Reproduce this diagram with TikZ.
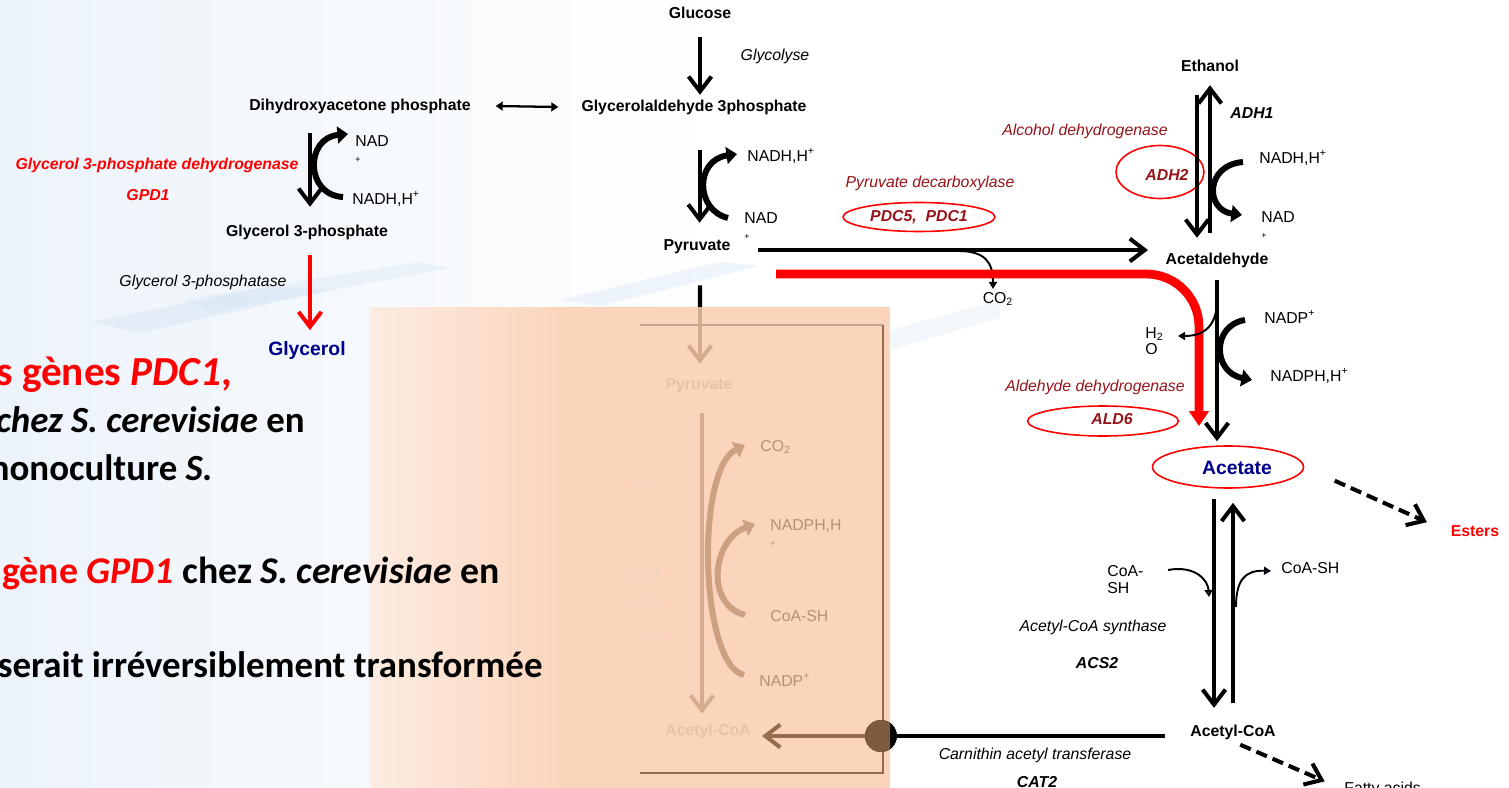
\documentclass[tikz,border=0pt]{standalone}
\usepackage{fontspec}
\setmainfont{Liberation Sans}
\newfontfamily\slidefont{Carlito}
\usetikzlibrary{arrows.meta,shapes.geometric,positioning}

\definecolor{enzred}{RGB}{150,20,25}
\definecolor{navyblue}{RGB}{0,0,140}
\definecolor{bgblue}{RGB}{236,243,250}
\definecolor{streak}{RGB}{214,230,245}
\definecolor{peachL}{RGB}{253,236,226}
\definecolor{peachR}{RGB}{250,213,188}
\definecolor{boxbrown}{RGB}{150,108,78}
\definecolor{circbrown}{RGB}{125,90,62}
\definecolor{fadearrow}{RGB}{214,172,145}
\definecolor{fadecurve}{RGB}{205,160,130}
\definecolor{fadelabel}{RGB}{183,143,117}
\definecolor{fademet}{RGB}{232,193,168}
\definecolor{fadeghost}{RGB}{243,213,194}
\definecolor{tipblue}{RGB}{40,90,160}

\begin{document}
\begin{tikzpicture}[
    x=0.02cm, y=-0.02cm,
    every node/.style={inner sep=1pt, font=\fontsize{9}{10}\selectfont},
    met/.style={font=\bfseries\fontsize{9}{10}\selectfont, text height=6.6pt, text depth=1.9pt},
    prod/.style={font=\bfseries\fontsize{11}{12}\selectfont, text=navyblue},
    enz/.style={font=\itshape\fontsize{9}{10}\selectfont},
    gene/.style={font=\bfseries\itshape\fontsize{9}{10}\selectfont},
    cofac/.style={align=left, inner sep=0pt, font=\fontsize{9}{10}\selectfont},
    ring/.style={ellipse, draw=red, line width=0.9pt, inner sep=0pt},
    rxn/.style={line width=2.3pt, -{Straight Barb[length=8.5pt,width=13pt]}},
    dblarrow/.style={line width=1.3pt, {Triangle[length=4pt,width=5pt]}-{Triangle[length=4pt,width=5pt]}},
    cofarrow/.style={line width=3.4pt, -{Triangle[length=6pt,width=9.5pt]}},
    thinarrow/.style={line width=1.1pt, -{Triangle[length=4pt,width=4.5pt]}},
    dasharrow/.style={rxn, dash pattern=on 6.5pt off 3.5pt},
    slide/.style={anchor=base east, inner sep=0pt, font=\slidefont\bfseries\fontsize{21}{24}\selectfont}
  ]

  \useasboundingbox (0,0) rectangle (1509,788);
  \clip (0,0) rectangle (1509,788);

  % slide background
  \fill[white] (0,0) rectangle (1509,788);
  \shade[left color=bgblue, right color=white] (0,0) rectangle (720,788);
  \fill[streak, opacity=0.5] (90,322) -- (270,286) -- (330,290) -- (140,333) -- cycle;
  \fill[streak, opacity=0.4] (180,300) -- (420,262) -- (450,268) -- (215,312) -- cycle;
  \fill[streak, opacity=0.4] (560,300) -- (720,262) -- (760,266) -- (600,306) -- cycle;
  \fill[streak, opacity=0.3] (890,330) -- (1000,300) -- (1000,318) -- (890,350) -- cycle;

  % glycolysis
  \node[met] (glucose) at (700,14) {Glucose};
  \node[enz] (glycolyse) at (775,56) {Glycolyse};
  \node[met] (gap) at (694,107) {Glycerolaldehyde 3phosphate};
  \node[met] (pyruvate) at (697,246) {Pyruvate};
  \node[cofac, anchor=west] (nadhB) at (747,156) {NADH,H\textsuperscript{+}};
  \node[cofac, anchor=north west] (nadB) at (744,212) {NAD\\[-1pt]{\tiny +}};

  \draw[rxn, shorten <=7.8pt, shorten >=1.5pt] (glucose.south) -- (glucose.south |- gap.north);
  \draw[rxn, shorten <=19pt, shorten >=7.8pt] ([xshift=1.5pt]pyruvate.north |- gap.south) -- ([xshift=1.5pt]pyruvate.north);
  \coordinate (gapTail) at (728,218);
  \coordinate (gapHead) at (737,154);
  \draw[cofarrow] (gapTail) .. controls (695,210) and (695,160) .. (gapHead);

  % glycerol branch
  \node[met] (dhap) at (360,106) {Dihydroxyacetone phosphate};
  \node[met] (g3p) at (307,232) {Glycerol 3-phosphate};
  \node[prod] (glycerol) at (307,350) {Glycerol};
  \node[gene, text=red] (gpdname) at (157,165) {Glycerol 3-phosphate dehydrogenase};
  \node[gene, text=red] (gpd) at (148,195) {GPD1};
  \node[enz] (gppname) at (203,282) {Glycerol 3-phosphatase};
  \node[cofac, anchor=north west] (nadA) at (355,135) {NAD\\[-1pt]{\tiny +}};
  \node[cofac, anchor=west] (nadhA) at (352,199) {NADH,H\textsuperscript{+}};

  \draw[dblarrow] ([xshift=13pt]dhap.east) -- ([xshift=-12pt]gap.west);
  \draw[rxn, shorten <=10pt, shorten >=8.9pt] ([xshift=1.7pt]g3p.north |- dhap.south) -- ([xshift=1.7pt]g3p.north);
  \coordinate (gpdTail) at (343,197);
  \coordinate (gpdHead) at (348,134);
  \draw[cofarrow] (gpdTail) .. controls (305,195) and (305,138) .. (gpdHead);
  \draw[rxn, red, shorten <=7.8pt, shorten >=5pt] ([xshift=1.7pt]g3p.south) -- ([xshift=1.7pt]g3p.south |- glycerol.north);

  % pyruvate decarboxylase
  \node[met] (acetald) at (1217,260) {Acetaldehyde};
  \node[enz, text=enzred] (pdcname) at (930,183) {Pyruvate decarboxylase};
  \node[ring, gene, text=enzred, minimum width=3.04cm, minimum height=0.58cm] (pdcring) at (919,217) {PDC5,\ \ PDC1};
  \node (co2) at (998,299) {CO\textsubscript{2}};
  \draw[rxn, shorten <=14.7pt, shorten >=8.8pt] ([yshift=-2.3pt]pyruvate.east) -- ([yshift=-2.3pt]pyruvate.east -| acetald.west);
  \coordinate (co2Fork) at (958,251);
  \coordinate (co2Tip) at (993,289);
  \draw[thinarrow] (co2Fork) .. controls (985,251) and (993,262) .. (co2Tip);

  % red by-pass
  \coordinate (redStart) at (776,274);
  \coordinate (redTip) at (1199,426);
  \draw[red, line width=5pt, rounded corners=30pt, -{Triangle[length=8.5pt,width=11pt]}] (redStart) -| (redTip);

  % alcohol dehydrogenase
  \node[met] (ethanol) at (1210,67) {Ethanol};
  \node[gene] (adh1) at (1252,113) {ADH1};
  \node[enz, text=enzred] (adhname) at (1085,131) {Alcohol dehydrogenase};
  \node[ring, minimum width=1.76cm, minimum height=1.06cm] (adhring) at (1160,172) {};
  \node[gene, text=enzred] (adh2) at (1167,175) {ADH2};
  \node[cofac, anchor=west] (nadhC) at (1259,158) {NADH,H\textsuperscript{+}};
  \node[cofac, anchor=north west] (nadC) at (1261,211) {NAD\\[-1pt]{\tiny +}};
  \draw[rxn, shorten <=10.6pt, shorten >=7.2pt] ([xshift=-7.4pt]ethanol.south) -- ([xshift=-7.4pt]ethanol.south |- acetald.north);
  \draw[rxn, shorten <=10pt, shorten >=4.9pt] (ethanol.south |- acetald.north) -- (ethanol.south);
  \coordinate (adhTail) at (1243,162);
  \coordinate (adhHead) at (1242,215);
  \draw[cofarrow] (adhTail) .. controls (1205,165) and (1205,210) .. (adhHead);

  % aldehyde dehydrogenase
  \node[ring, minimum width=3.02cm, minimum height=0.84cm] (acetring) at (1228,467) {};
  \node[prod] (acetate) at (1237,468) {Acetate};
  \node[enz, text=enzred] (aldname) at (1095,387) {Aldehyde dehydrogenase};
  \node[ring, minimum width=3.02cm, minimum height=0.6cm] (aldring) at (1103,421) {};
  \node[gene, text=enzred] (ald6) at (1112,419) {ALD6};
  \node[cofac, anchor=west] (nadpD) at (1264,317) {NADP\textsuperscript{+}};
  \node[cofac, anchor=west] (nadphD) at (1270,376) {NADPH,H\textsuperscript{+}};
  \node[cofac, anchor=north west] (h2o) at (1145,327) {H\textsubscript{2}\\[-1pt]O};
  \draw[rxn, shorten <=6pt, shorten >=2.3pt] (acetald.south) -- (acetald.south |- acetring.north);
  \coordinate (h2oFork) at (1217,300);
  \coordinate (h2oTip) at (1178,336);
  \draw[thinarrow] (h2oFork) .. controls (1217,325) and (1205,336) .. (h2oTip);
  \coordinate (aldTail) at (1245,320);
  \coordinate (aldHead) at (1252,380);
  \draw[cofarrow] (aldTail) .. controls (1212,325) and (1212,372) .. (aldHead);

  % acetyl-CoA synthase
  \node[met] (acetylcoa) at (1233,732) {Acetyl-CoA};
  \node[met, text=red] (esters) at (1475,532) {Esters};
  \node[anchor=north west, inner sep=0pt] (fatty) at (1344,782) {Fatty acids};
  \node[enz] (acsname) at (1093,627) {Acetyl-CoA synthase};
  \node[gene] (acs2) at (1097,663) {ACS2};
  \node[cofac, anchor=north west] (coashA) at (1107,565) {CoA-\\SH};
  \node[cofac, anchor=west] (coashB) at (1281,568) {CoA-SH};
  \draw[rxn, shorten <=5.7pt, shorten >=8.3pt] ([xshift=-10.8pt]acetylcoa.north |- acetring.south) -- ([xshift=-10.8pt]acetylcoa.north);
  \draw[rxn, shorten <=11.2pt, shorten >=8pt] (acetylcoa.north) -- (acetylcoa.north |- acetring.south);
  \coordinate (coaInTail) at (1168,570);
  \coordinate (coaInTip) at (1209,597);
  \draw[thinarrow, -{Triangle[length=4pt,width=4.5pt,fill=tipblue]}] (coaInTail) .. controls (1195,565) and (1208,580) .. (coaInTip);
  \coordinate (coaOutTail) at (1236,607);
  \coordinate (coaOutTip) at (1271,571);
  \draw[thinarrow, -{Triangle[length=4pt,width=4.5pt,fill=tipblue]}] (coaOutTail) .. controls (1236,580) and (1245,570) .. (coaOutTip);
  \draw[dasharrow, shorten <=19pt, shorten >=13.6pt] (acetring.east) -- (esters.west);
  \draw[dasharrow, shorten <=4.5pt, shorten >=12pt] (acetylcoa.south) -- (fatty.west);

  % carnitine shuttle
  \node[enz] (catname) at (1035,755) {Carnithin acetyl transferase};
  \node[gene] (cat2) at (1037,782) {CAT2};

  % orange cover over the left part
  \shade[left color=peachL, right color=peachR] (369,307) rectangle (560,788);
  \fill[peachR] (560,307) rectangle (890,788);

  % faded mitochondrial box under the cover
  \draw[boxbrown!60, line width=0.9pt] (640,325) -- (883,325);
  \draw[boxbrown, line width=1pt] (883,325) -- (883,773) -- (640,773);
  \node[met, text=fademet] (inpyr) at (699,385) {Pyruvate};
  \node[met, text=fademet] (inacoa) at (708,731) {Acetyl-CoA};
  \node[cofac, anchor=west, text=fadelabel] (inco2) at (760,447) {CO\textsubscript{2}};
  \node[cofac, anchor=north west, text=fadelabel] (innadph) at (770,519) {NADPH,H\\[-1pt]{\tiny +}};
  \node[cofac, anchor=west, text=fadelabel] (incoash) at (770,616) {CoA-SH};
  \node[cofac, anchor=west, text=fadelabel] (innadp) at (759,680) {NADP\textsuperscript{+}};
  \node[enz, anchor=east, text=fadeghost] (ghostA) at (652,486) {se};
  \node[gene, anchor=east, text=fadeghost] (ghostB) at (662,574) {LD4};
  \node[gene, anchor=east, text=fadeghost] (ghostC) at (662,604) {LD5};
  \node[enz, anchor=east, text=fadeghost] (ghostD) at (669,635) {ase};

  \coordinate (coverTop) at (700,307);
  \draw[line width=2.3pt, shorten <=17pt] ([xshift=1.7pt]pyruvate.south) -- (coverTop);
  \draw[rxn, fadearrow, shorten >=6.6pt] (coverTop) -- (coverTop |- inpyr.north);
  \draw[rxn, fadearrow, shorten <=10.6pt, shorten >=4.4pt] ([xshift=1.7pt]inpyr.south) -- ([xshift=1.7pt]inpyr.south |- inacoa.north);
  \coordinate (inNadpTail) at (744,675);
  \coordinate (inCo2Tip) at (745,445);
  \draw[cofarrow, fadecurve] (inNadpTail) .. controls (700,665) and (695,470) .. (inCo2Tip);
  \coordinate (inCoaTail) at (745,615);
  \coordinate (inNadphTip) at (755,524);
  \draw[cofarrow, fadecurve] (inCoaTail) .. controls (705,605) and (712,540) .. (inNadphTip);

  % carnitine circle, half under the cover
  \node[circle, fill=black, minimum size=0.64cm, inner sep=0pt] (carncirc) at (881,736) {};
  \begin{scope}
    \clip (850,700) rectangle (890,775);
    \fill[circbrown] (carncirc.center) circle[radius=0.32cm];
  \end{scope}
  \draw[line width=2.3pt, shorten <=13pt] (carncirc -| acetylcoa.west) -- (carncirc);
  \draw[rxn, boxbrown, shorten >=5.3pt] (carncirc.west) -- (carncirc -| inacoa.east);

  % slide text
  \node[slide, text=red, font=\slidefont\bfseries\fontsize{23.5}{26}\selectfont] (genesA) at (232,385) {s gènes \textit{PDC1},};
  \node[slide] (chezA) at (305,432) {\textit{chez S. cerevisiae} en};
  \node[slide] (mono) at (213,480) {monoculture \textit{S.}};
  \node[slide, font=\slidefont\bfseries\fontsize{21.5}{24}\selectfont] (geneB) at (500,583) {\textcolor{red}{gène \textit{GPD1}} chez \textit{S. cerevisiae} en};
  \node[slide] (serait) at (543,677) {serait irréversiblement transformée};

\end{tikzpicture}
\end{document}
